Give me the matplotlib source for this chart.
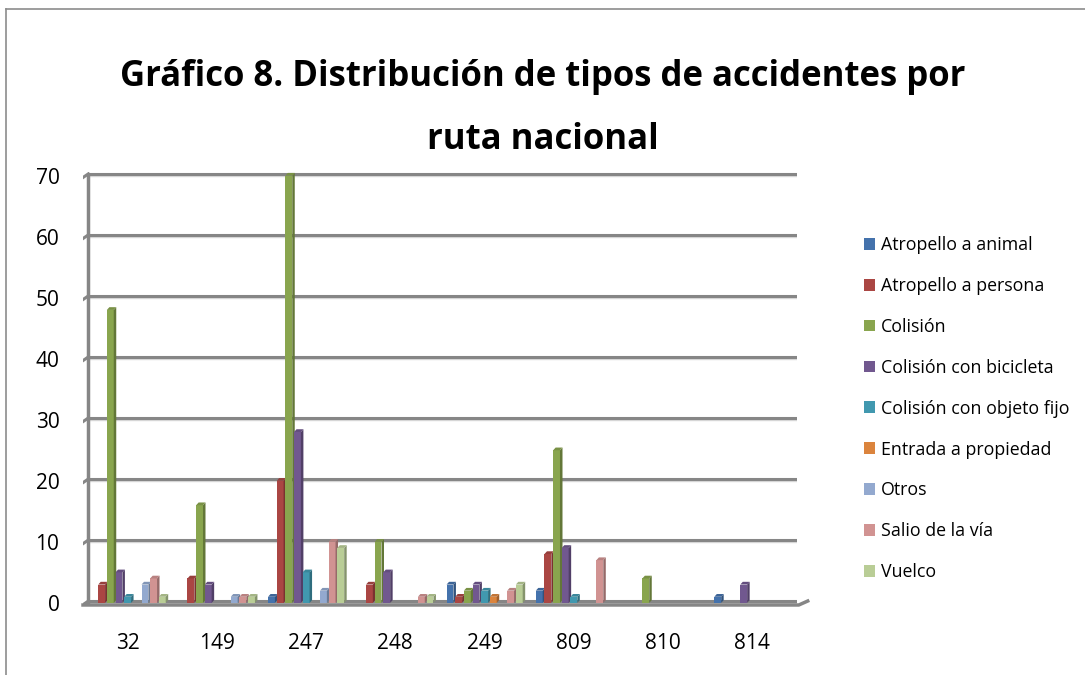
import numpy as np
import matplotlib
matplotlib.use("Agg")
from matplotlib import pyplot as plt
from matplotlib.patches import Rectangle, Polygon, Patch
from matplotlib.lines import Line2D

rutas = ["32", "149", "247", "248", "249", "809", "810", "814"]
tipos = ["Atropello a animal", "Atropello a persona", "Colisión", "Colisión con bicicleta",
         "Colisión con objeto fijo", "Entrada a propiedad", "Otros", "Salio de la vía", "Vuelco"]

atropello_animal = [0, 0, 1, 0, 3, 2, 0, 1]
atropello_persona = [3, 4, 20, 3, 1, 8, 0, 0]
colision = [48, 16, 70, 10, 2, 25, 4, 0]
colision_bici = [5, 3, 28, 5, 3, 9, 0, 3]
colision_objeto = [1, 0, 5, 0, 2, 1, 0, 0]
entrada_propiedad = [0, 0, 0, 0, 1, 0, 0, 0]
otros = [3, 1, 2, 0, 0, 0, 0, 0]
salio_via = [4, 1, 10, 1, 2, 7, 0, 0]
vuelco = [1, 1, 9, 1, 3, 0, 0, 0]

series = [atropello_animal, atropello_persona, colision, colision_bici, colision_objeto,
          entrada_propiedad, otros, salio_via, vuelco]
colores = ["#4472AC", "#AA4643", "#89A54E", "#71588F", "#4198AF", "#DB843D",
           "#93A9CF", "#D19392", "#B9CD96"]


def oscurecer(c, f=0.7):
    r, g, b = matplotlib.colors.to_rgb(c)
    return (r * f, g * f, b * f)


plt.rcParams["font.family"] = ["Open Sans", "DejaVu Sans"]

fig = plt.figure(figsize=(10.85, 6.75), dpi=100)
W, H = 1085, 675
ax = fig.add_axes([83 / W, 70 / H, 714 / W, 433 / H])

n = len(series)
slot = 0.097
w = 0.077
dx = 0.028
dy = 0.45
gris = "#868686"

# paredes y rejilla
for v in range(0, 80, 10):
    ax.plot([-0.44, 7.58], [v + 0.3, v + 0.3], color=gris, lw=2.2, zorder=1, solid_capstyle="butt")
    ax.plot([-0.44, 7.58], [v - 0.05, v - 0.05], color="#d9d9d9", lw=1.0, zorder=0.9)
    ax.plot([-0.5, -0.44], [v - 0.3, v + 0.3], color=gris, lw=2.2, zorder=1)
ax.plot([-0.44, -0.44], [0, 70], color=gris, lw=2.5, zorder=1)
ax.plot([-0.5, 7.52, 7.62], [-0.35, -0.35, 0.3], color=gris, lw=2.5, zorder=1, clip_on=False)

for i, vals in enumerate(series):
    for j, h in enumerate(vals):
        if h <= 0:
            continue
        x0 = j - n * slot / 2 + i * slot + (slot - w) / 2
        c = colores[i]
        ax.add_patch(Rectangle((x0, 0), w, h, facecolor=c, edgecolor="none", zorder=3))
        ax.add_patch(Polygon([(x0 + w, 0), (x0 + w + dx, dy), (x0 + w + dx, h + dy), (x0 + w, h)],
                             facecolor=oscurecer(c, 0.72), edgecolor="none", zorder=3))
        ax.add_patch(Polygon([(x0, h), (x0 + dx, h + dy), (x0 + w + dx, h + dy), (x0 + w, h)],
                             facecolor=oscurecer(c, 0.88), edgecolor="none", zorder=3))

ax.set_xlim(-0.5, 7.5)
ax.set_ylim(-0.35, 70.6)
ax.set_xticks(range(len(rutas)))
ax.set_xticklabels(rutas, fontsize=15)
ax.set_yticks(range(0, 80, 10))
ax.set_yticklabels([str(v) for v in range(0, 80, 10)], fontsize=15)
ax.tick_params(length=0)
ax.tick_params(axis="y", pad=17)
ax.tick_params(axis="x", pad=20)
for s in ax.spines.values():
    s.set_visible(False)
ax.patch.set_alpha(0)

fig.text(543 / W, 1 - 77 / H, "Gráfico 8. Distribución de tipos de accidentes por",
         ha="center", va="center", fontsize=25, fontweight="bold")
fig.text(543 / W, 1 - 140 / H, "ruta nacional",
         ha="center", va="center", fontsize=25, fontweight="bold")

handles = [Patch(facecolor=c, edgecolor="none") for c in colores]
fig.legend(handles, tipos, loc="upper left", bbox_to_anchor=(855 / W, 1 - 227 / H),
           frameon=False, fontsize=12.8, handlelength=0.65, handleheight=0.65,
           handletextpad=0.3, labelspacing=1.29, borderpad=0)

# borde del área del gráfico
fig.add_artist(Line2D([6 / W, 6 / W], [0, 1 - 9 / H], color="#8c8c8c", lw=1.2))
fig.add_artist(Line2D([6 / W, 1], [1 - 9 / H, 1 - 9 / H], color="#8c8c8c", lw=1.2))

fig.savefig("out.png", dpi=100)
